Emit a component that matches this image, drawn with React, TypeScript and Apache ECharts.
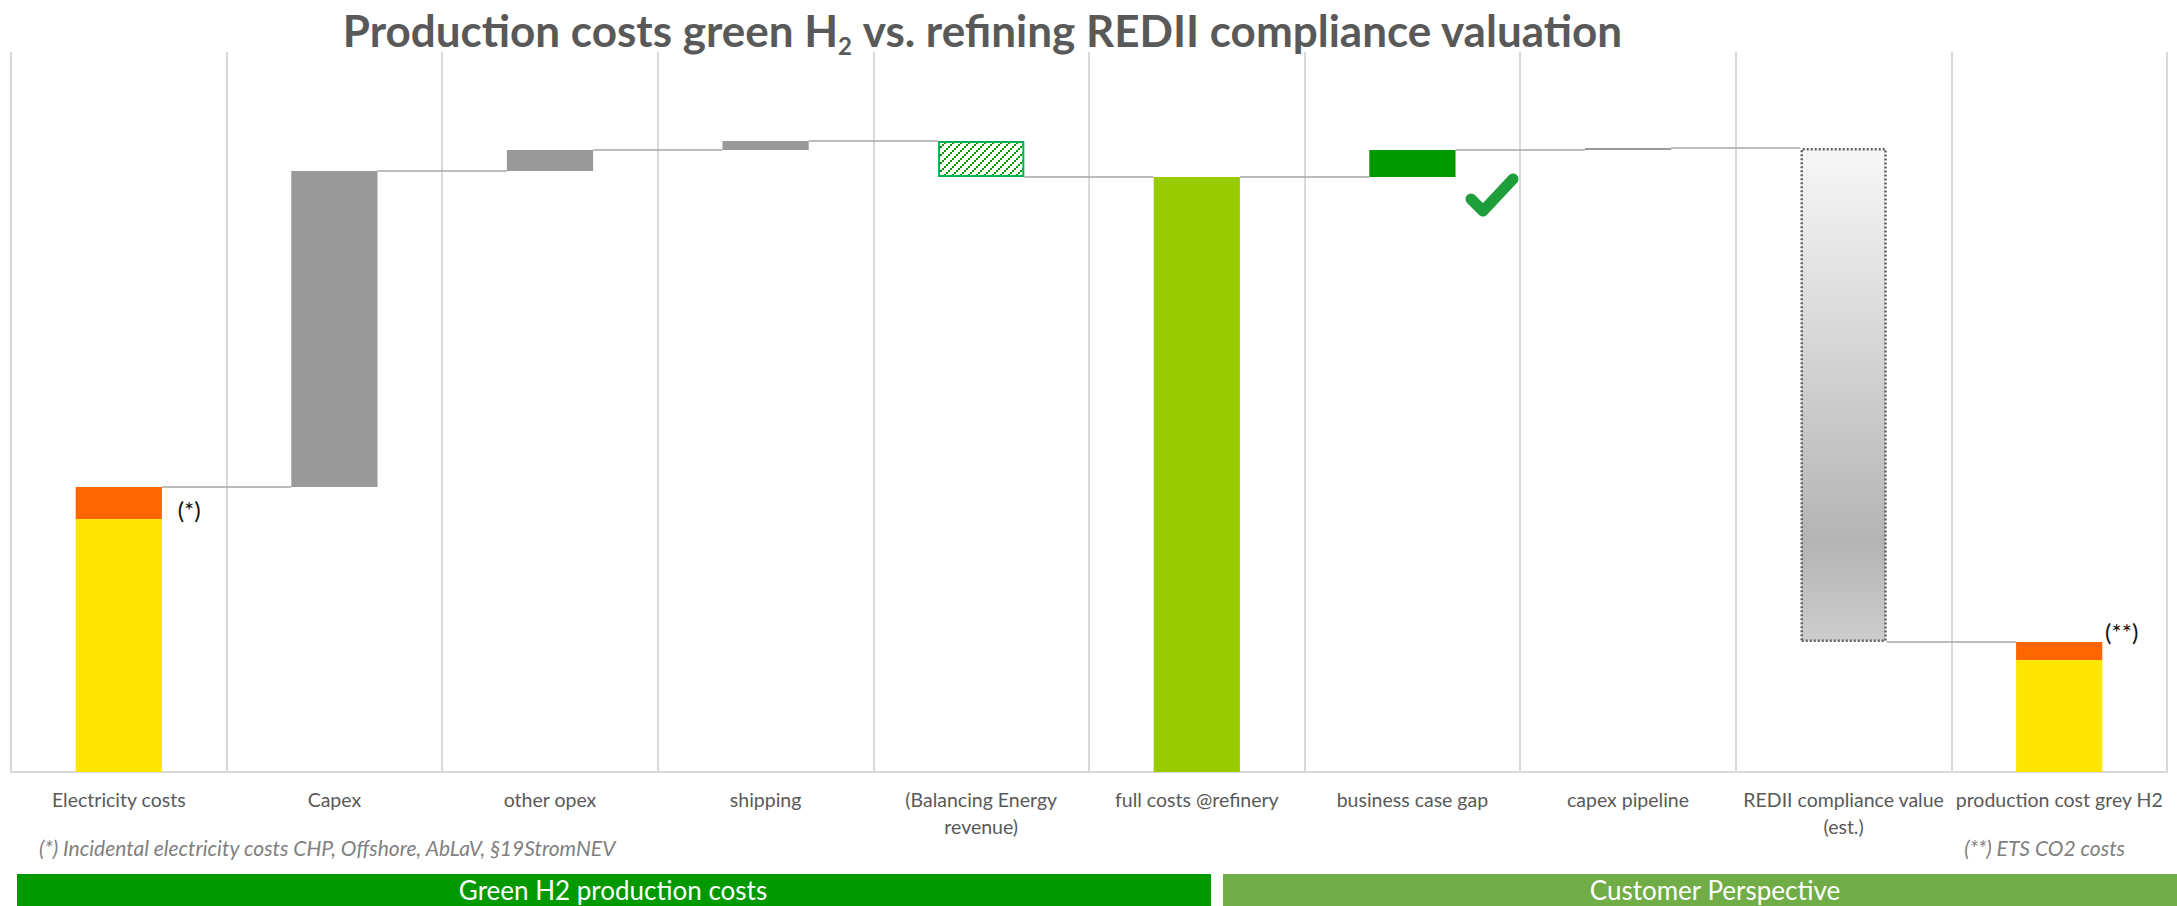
import React, { useEffect, useRef } from "react";
import * as echarts from "echarts";

// ---------- data (€/kg H2) ----------
const categories = [
  "Electricity costs",
  "Capex",
  "other opex",
  "shipping",
  "(Balancing Energy\nrevenue)",
  "full costs @refinery",
  "business case gap",
  "capex pipeline",
  "REDII compliance value\n(est.)",
  "production cost grey H2",
];
// [electricity, incidental electricity costs (*)]
const electricityCosts = [2.53, 0.32];
// Capex, other opex, shipping, (Balancing energy revenue)
const productionSteps = [3.16, 0.21, 0.09, -0.36];
// business case gap, capex pipeline, REDII compliance value
const customerSteps = [0.27, 0.02, -4.94];
// [grey H2 production, ETS CO2 costs (**)]
const greyH2Costs = [1.12, 0.18];
const footnotes = [
  "(*) Incidental electricity costs CHP, Offshore, AbLaV, §19StromNEV",
  "(**) ETS CO2 costs",
];
const bands = ["Green H2 production costs", "Customer Perspective"];

const FONT = "Lato, 'Noto Sans', sans-serif";

function makeHatch(): HTMLCanvasElement {
  const c = document.createElement("canvas");
  c.width = 8;
  c.height = 8;
  const ctx = c.getContext("2d")!;
  ctx.fillStyle = "#ffffff";
  ctx.fillRect(0, 0, 8, 8);
  ctx.fillStyle = "#009900";
  [[0, 6], [2, 4], [4, 2], [6, 0]].forEach(([x, y]) => ctx.fillRect(x, y, 2, 2));
  return c;
}

export default function App() {
  const ref = useRef<HTMLDivElement>(null);

  useEffect(() => {
    if (!ref.current) return;
    const chart = echarts.init(ref.current, undefined, { renderer: "svg" });

    // cumulative levels
    const offsets: number[] = [];
    const mains: number[] = [];
    const levels: number[] = [];
    let level = electricityCosts[0] + electricityCosts[1];
    offsets.push(0);
    mains.push(electricityCosts[0]);
    levels.push(level);
    productionSteps.forEach((d) => {
      const next = level + d;
      offsets.push(Math.min(level, next));
      mains.push(Math.abs(d));
      level = next;
      levels.push(level);
    });
    const fullCosts = level;
    offsets.push(0);
    mains.push(fullCosts);
    levels.push(level);
    customerSteps.forEach((d) => {
      const next = level + d;
      offsets.push(Math.min(level, next));
      mains.push(Math.abs(d));
      level = next;
      levels.push(level);
    });
    offsets.push(0);
    mains.push(greyH2Costs[0]);

    const hatch = makeHatch();
    const styles: any[] = [
      { color: "#FFE600" },
      { color: "#999999" },
      { color: "#999999" },
      { color: "#999999" },
      {
        color: { image: hatch, repeat: "repeat" },
        borderColor: "#00B050",
        borderWidth: 2,
      },
      { color: "#99CC00" },
      { color: "#009900" },
      { color: "#999999" },
      {
        color: new echarts.graphic.LinearGradient(0, 0, 0, 1, [
          { offset: 0, color: "#f7f7f7" },
          { offset: 0.8, color: "#b4b4b4" },
          { offset: 1, color: "#cdcdcd" },
        ]),
        borderColor: "#5f5f5f",
        borderWidth: 2.5,
        borderType: [2, 2],
      },
      { color: "#FFE600" },
    ];

    const topData: any[] = categories.map(() => "-");
    topData[0] = {
      value: electricityCosts[1],
      label: {
        show: true,
        formatter: "(*)",
        position: [102, 22],
        verticalAlign: "middle",
        align: "left",
      },
    };
    topData[9] = {
      value: greyH2Costs[1],
      label: {
        show: true,
        formatter: "(**)",
        position: [89, -11],
        verticalAlign: "middle",
        align: "left",
      },
    };

    const connectorData = levels
      .slice(0, categories.length - 1)
      .map((lv, i) => [i, lv]);

    chart.setOption({
      animation: false,
      grid: { left: 11, right: 10, top: 52, bottom: 134 },
      xAxis: {
        type: "category",
        data: categories,
        axisLine: { lineStyle: { color: "#d9d9d9", width: 2 } },
        axisTick: { show: false },
        splitLine: { show: true, lineStyle: { color: "#d9d9d9", width: 2 } },
        axisLabel: {
          interval: 0,
          color: "#595959",
          fontFamily: FONT,
          fontSize: 19.5,
          lineHeight: 27,
          margin: 14,
        },
      },
      yAxis: {
        type: "value",
        min: 0,
        max: 7.2,
        show: false,
        splitLine: { show: false },
      },
      series: [
        {
          type: "bar",
          stack: "wf",
          barWidth: "40%",
          itemStyle: { color: "transparent" },
          emphasis: { disabled: true },
          data: offsets,
        },
        {
          type: "bar",
          stack: "wf",
          barWidth: "40%",
          data: mains.map((v, i) => ({ value: v, itemStyle: styles[i] })),
        },
        {
          type: "bar",
          stack: "wf",
          barWidth: "40%",
          itemStyle: { color: "#FF6600" },
          label: { color: "#111111", fontFamily: FONT, fontSize: 24 },
          data: topData,
        },
        {
          type: "custom",
          z: 1,
          data: connectorData,
          encode: { x: 0, y: 1 },
          renderItem: (params: any, api: any) => {
            const i = api.value(0);
            const lv = api.value(1);
            const p0 = api.coord([i, lv]);
            const p1 = api.coord([i + 1, lv]);
            const hw = api.size([1, 0])[0] * 0.2;
            return {
              type: "line",
              shape: { x1: p0[0] + hw, y1: p0[1], x2: p1[0] - hw, y2: p1[1] },
              style: { stroke: "#a6a6a6", lineWidth: 1.5 },
            };
          },
        },
      ],
      graphic: [
        {
          type: "text",
          x: 983,
          y: 30,
          style: {
            text: "{a|Production costs green H}{s|2}{a| vs. refining REDII compliance valuation}",
            align: "center",
            verticalAlign: "middle",
            rich: {
              a: {
                fontFamily: FONT,
                fontWeight: "bold",
                fontSize: 44,
                lineHeight: 54,
                fill: "#595959",
                color: "#595959",
              },
              s: {
                fontFamily: FONT,
                fontWeight: "bold",
                fontSize: 24,
                lineHeight: 18,
                verticalAlign: "bottom",
                fill: "#595959",
                color: "#595959",
              },
            },
          },
        },
        {
          type: "polyline",
          shape: { points: [[1471, 199], [1483, 211], [1513, 179]] },
          style: {
            stroke: "#1E9E3A",
            lineWidth: 11,
            lineCap: "round",
            lineJoin: "round",
            fill: "none",
          },
        },
        {
          type: "text",
          x: 39,
          y: 847,
          style: {
            text: footnotes[0],
            fontFamily: FONT,
            fontStyle: "italic",
            fontSize: 21,
            fill: "#808080",
            verticalAlign: "middle",
            align: "left",
          },
        },
        {
          type: "text",
          x: 2125,
          y: 847,
          style: {
            text: footnotes[1],
            fontFamily: FONT,
            fontStyle: "italic",
            fontSize: 21,
            fill: "#808080",
            verticalAlign: "middle",
            align: "right",
          },
        },
        {
          type: "rect",
          shape: { x: 17, y: 874, width: 1194, height: 40 },
          style: { fill: "#009900" },
        },
        {
          type: "text",
          x: 613,
          y: 890,
          style: {
            text: bands[0],
            fontFamily: FONT,
            fontSize: 26,
            fill: "#ffffff",
            align: "center",
            verticalAlign: "middle",
          },
        },
        {
          type: "rect",
          shape: { x: 1223, y: 874, width: 960, height: 40 },
          style: { fill: "#70AD47" },
        },
        {
          type: "text",
          x: 1715,
          y: 890,
          style: {
            text: bands[1],
            fontFamily: FONT,
            fontSize: 26,
            fill: "#ffffff",
            align: "center",
            verticalAlign: "middle",
          },
        },
      ],
    });

    return () => chart.dispose();
  }, []);

  return (
    <div
      ref={ref}
      style={{ position: "absolute", left: 0, top: 0, width: 2177, height: 906 }}
    />
  );
}
